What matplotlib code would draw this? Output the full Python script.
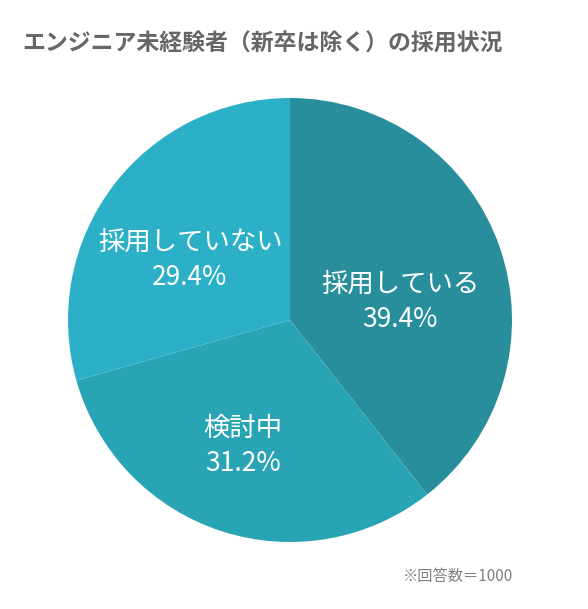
import matplotlib.pyplot as plt

plt.rcParams['font.family'] = ['Noto Sans CJK JP', 'DejaVu Sans']

title = "エンジニア未経験者（新卒は除く）の採用状況"
labels = ["採用している", "検討中", "採用していない"]
values = [39.4, 31.2, 29.4]
colors = ["#288e9c", "#29a4b5", "#2cb0c7"]
# label centres in units of the pie radius
label_pos = [(0.495, 0.08), (-0.212, -0.568), (-0.45, 0.27)]

fig = plt.figure(figsize=(5.88, 6.09), dpi=100)
ax = fig.add_axes([68 / 588, 67 / 609, 444 / 588, 444 / 609])

wedges, _ = ax.pie(values, colors=colors, startangle=90, counterclock=False,
                   wedgeprops=dict(linewidth=0))
ax.set_xlim(-1, 1)
ax.set_ylim(-1, 1)
ax.set_aspect('equal')
ax.axis('off')

for lab, v, (x, y) in zip(labels, values, label_pos):
    ax.text(x, y, f"{lab}\n{v}%", ha='center', va='center', color='white',
            fontsize=19, linespacing=1.4)

fig.text(22 / 588, 1 - 44 / 609, title, ha='left', va='center',
         fontsize=16.5, fontweight='bold', color='#666666')
fig.text(403 / 588, 1 - 577 / 609, "※回答数＝1000", ha='left', va='center',
         fontsize=11, color='#808080')

fig.savefig("out.png", dpi=100)
